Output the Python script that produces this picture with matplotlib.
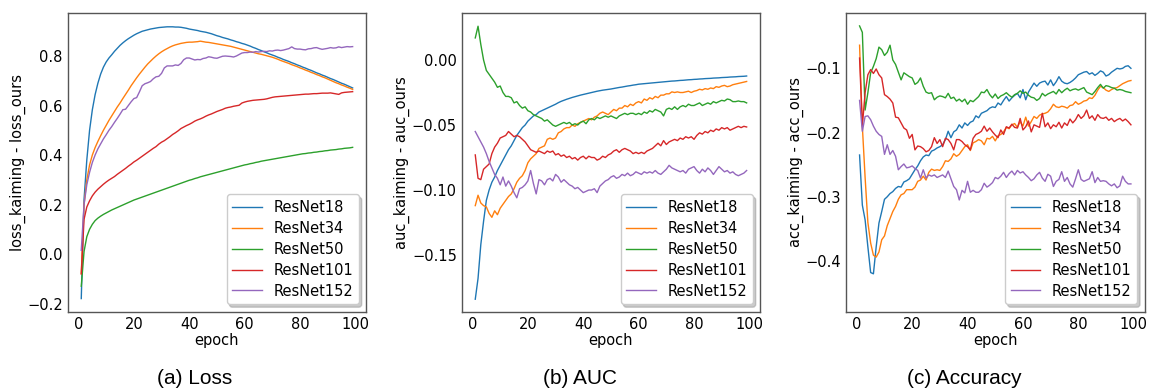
import numpy as np
import matplotlib
matplotlib.use("Agg")
import matplotlib.pyplot as plt

epochs = list(range(1, 100))
labels = ["ResNet18", "ResNet34", "ResNet50", "ResNet101", "ResNet152"]

# ---------------- (a) Loss ----------------
loss18 = [-0.18, 0.22, 0.38, 0.50, 0.583, 0.644, 0.69, 0.727, 0.755, 0.776,
          0.792, 0.805, 0.819, 0.831, 0.843, 0.853, 0.862, 0.870, 0.877, 0.884,
          0.890, 0.895, 0.900, 0.903, 0.906, 0.909, 0.911, 0.913, 0.915, 0.916,
          0.917, 0.918, 0.918, 0.918, 0.917, 0.917, 0.916, 0.914, 0.912, 0.909,
          0.907, 0.905, 0.903, 0.900, 0.898, 0.896, 0.893, 0.890, 0.886, 0.882,
          0.879, 0.875, 0.872, 0.869, 0.865, 0.862, 0.858, 0.855, 0.851, 0.848,
          0.844, 0.840, 0.835, 0.831, 0.826, 0.822, 0.817, 0.813, 0.808, 0.804,
          0.800, 0.795, 0.791, 0.786, 0.782, 0.778, 0.773, 0.769, 0.764, 0.760,
          0.755, 0.751, 0.746, 0.742, 0.737, 0.732, 0.728, 0.723, 0.719, 0.714,
          0.709, 0.705, 0.700, 0.695, 0.690, 0.686, 0.681, 0.676, 0.671]
loss34 = [-0.08, 0.20, 0.30, 0.36, 0.40, 0.43, 0.455, 0.478, 0.50, 0.52,
          0.54, 0.558, 0.576, 0.594, 0.61, 0.628, 0.645, 0.662, 0.68, 0.696,
          0.712, 0.727, 0.741, 0.755, 0.768, 0.779, 0.790, 0.800, 0.809, 0.817,
          0.824, 0.830, 0.836, 0.841, 0.845, 0.848, 0.851, 0.853, 0.855, 0.856,
          0.856, 0.857, 0.858, 0.860, 0.858, 0.856, 0.855, 0.853, 0.851, 0.849,
          0.847, 0.845, 0.843, 0.841, 0.839, 0.836, 0.833, 0.830, 0.827, 0.824,
          0.821, 0.818, 0.815, 0.812, 0.809, 0.807, 0.804, 0.801, 0.798, 0.795,
          0.791, 0.787, 0.782, 0.778, 0.774, 0.770, 0.765, 0.761, 0.757, 0.752,
          0.748, 0.743, 0.739, 0.734, 0.730, 0.725, 0.721, 0.716, 0.712, 0.707,
          0.702, 0.697, 0.692, 0.688, 0.683, 0.679, 0.674, 0.670, 0.665]
loss50 = [-0.13, 0.01, 0.07, 0.10, 0.12, 0.135, 0.145, 0.153, 0.16, 0.166,
          0.172, 0.178, 0.183, 0.188, 0.193, 0.198, 0.203, 0.208, 0.213, 0.218,
          0.222, 0.226, 0.230, 0.234, 0.238, 0.242, 0.246, 0.250, 0.254, 0.258,
          0.262, 0.266, 0.270, 0.274, 0.278, 0.282, 0.286, 0.290, 0.294, 0.298,
          0.301, 0.305, 0.308, 0.312, 0.315, 0.318, 0.321, 0.324, 0.327, 0.330,
          0.333, 0.336, 0.339, 0.342, 0.345, 0.348, 0.351, 0.354, 0.357, 0.360,
          0.362, 0.365, 0.367, 0.370, 0.372, 0.375, 0.377, 0.379, 0.381, 0.383,
          0.385, 0.387, 0.389, 0.391, 0.393, 0.395, 0.397, 0.399, 0.401, 0.403,
          0.405, 0.406, 0.408, 0.409, 0.411, 0.412, 0.414, 0.415, 0.417, 0.418,
          0.420, 0.421, 0.422, 0.424, 0.425, 0.427, 0.428, 0.429, 0.431]
loss101 = [-0.08, 0.14, 0.19, 0.215, 0.235, 0.25, 0.262, 0.272, 0.282, 0.291,
           0.299, 0.306, 0.313, 0.322, 0.330, 0.338, 0.346, 0.355, 0.363, 0.372,
           0.379, 0.387, 0.395, 0.403, 0.411, 0.419, 0.427, 0.434, 0.444, 0.452,
           0.458, 0.466, 0.474, 0.483, 0.490, 0.498, 0.507, 0.513, 0.519, 0.524,
           0.530, 0.537, 0.542, 0.546, 0.551, 0.557, 0.562, 0.566, 0.571, 0.576,
           0.580, 0.584, 0.589, 0.592, 0.594, 0.597, 0.599, 0.601, 0.610, 0.614,
           0.617, 0.619, 0.621, 0.622, 0.623, 0.624, 0.625, 0.627, 0.630, 0.633,
           0.635, 0.636, 0.637, 0.638, 0.639, 0.640, 0.641, 0.642, 0.643, 0.644,
           0.645, 0.646, 0.646, 0.647, 0.648, 0.648, 0.649, 0.650, 0.650, 0.650,
           0.651, 0.649, 0.647, 0.645, 0.651, 0.653, 0.654, 0.655, 0.656]
loss152 = [0.015, 0.20, 0.28, 0.33, 0.37, 0.40, 0.425, 0.445, 0.465, 0.482,
           0.50, 0.515, 0.532, 0.548, 0.565, 0.583, 0.585, 0.600, 0.615, 0.628,
           0.632, 0.655, 0.680, 0.688, 0.692, 0.697, 0.708, 0.716, 0.718, 0.730,
           0.752, 0.760, 0.760, 0.760, 0.764, 0.762, 0.770, 0.785, 0.792, 0.792,
           0.788, 0.784, 0.786, 0.785, 0.790, 0.792, 0.797, 0.795, 0.792, 0.791,
           0.795, 0.799, 0.800, 0.799, 0.798, 0.796, 0.800, 0.806, 0.812, 0.814,
           0.814, 0.816, 0.815, 0.818, 0.816, 0.818, 0.819, 0.818, 0.821, 0.820,
           0.823, 0.824, 0.822, 0.824, 0.827, 0.830, 0.837, 0.830, 0.828, 0.828,
           0.826, 0.825, 0.829, 0.830, 0.833, 0.834, 0.830, 0.827, 0.829, 0.831,
           0.834, 0.832, 0.833, 0.837, 0.834, 0.836, 0.838, 0.837, 0.838]

# ---------------- (b) AUC ----------------
auc18 = [-0.184, -0.168, -0.142, -0.124, -0.108, -0.100, -0.094, -0.090, -0.085, -0.081,
         -0.077, -0.073, -0.069, -0.066, -0.062, -0.058, -0.055, -0.052, -0.050, -0.047,
         -0.045, -0.043, -0.042, -0.040, -0.039, -0.038, -0.037, -0.036, -0.035, -0.034,
         -0.0328, -0.0318, -0.0310, -0.0302, -0.0295, -0.0288, -0.0282, -0.0276, -0.0270, -0.0265,
         -0.0260, -0.0255, -0.0250, -0.0245, -0.0240, -0.0236, -0.0232, -0.0229, -0.0226, -0.0223,
         -0.0219, -0.0215, -0.0211, -0.0208, -0.0204, -0.0200, -0.0197, -0.0193, -0.0190, -0.0186,
         -0.0184, -0.0182, -0.0180, -0.0178, -0.0176, -0.0174, -0.0172, -0.0170, -0.0168, -0.0166,
         -0.0164, -0.0162, -0.0161, -0.0159, -0.0157, -0.0156, -0.0154, -0.0152, -0.0151, -0.0149,
         -0.0148, -0.0146, -0.0145, -0.0143, -0.0142, -0.0141, -0.0139, -0.0138, -0.0137, -0.0135,
         -0.0134, -0.0133, -0.0131, -0.0130, -0.0129, -0.0127, -0.0126, -0.0125, -0.0123]
auc34 = [-0.112, -0.104, -0.110, -0.112, -0.113, -0.118, -0.121, -0.116, -0.119, -0.114,
         -0.111, -0.108, -0.105, -0.103, -0.099, -0.094, -0.091, -0.089, -0.085, -0.079,
         -0.076, -0.074, -0.072, -0.068, -0.067, -0.066, -0.061, -0.060, -0.061, -0.060,
         -0.056, -0.055, -0.053, -0.052, -0.052, -0.050, -0.051, -0.049, -0.048, -0.047,
         -0.046, -0.045, -0.046, -0.044, -0.043, -0.041, -0.040, -0.041, -0.042, -0.040,
         -0.038, -0.039, -0.037, -0.037, -0.035, -0.036, -0.034, -0.035, -0.033, -0.032,
         -0.033, -0.030, -0.031, -0.029, -0.030, -0.028, -0.029, -0.027, -0.027, -0.026,
         -0.026, -0.0245, -0.025, -0.0245, -0.025, -0.025, -0.0245, -0.024, -0.025, -0.024,
         -0.0235, -0.0225, -0.023, -0.022, -0.0225, -0.0215, -0.022, -0.0205, -0.021, -0.020,
         -0.0195, -0.0205, -0.020, -0.019, -0.0185, -0.018, -0.0175, -0.017, -0.0165]
auc50 = [0.017, 0.026, 0.012, 0.000, -0.008, -0.011, -0.014, -0.017, -0.021, -0.020,
         -0.025, -0.028, -0.028, -0.029, -0.033, -0.032, -0.035, -0.037, -0.036, -0.039,
         -0.040, -0.042, -0.043, -0.044, -0.045, -0.047, -0.046, -0.048, -0.050, -0.051,
         -0.050, -0.049, -0.048, -0.049, -0.048, -0.050, -0.049, -0.050, -0.048, -0.047,
         -0.049, -0.046, -0.045, -0.046, -0.044, -0.045, -0.044, -0.043, -0.044, -0.043,
         -0.044, -0.045, -0.043, -0.042, -0.041, -0.042, -0.041, -0.041, -0.042, -0.041,
         -0.042, -0.040, -0.041, -0.039, -0.040, -0.038, -0.039, -0.040, -0.043, -0.038,
         -0.037, -0.038, -0.036, -0.038, -0.036, -0.035, -0.036, -0.034, -0.035, -0.035,
         -0.034, -0.033, -0.035, -0.034, -0.033, -0.034, -0.032, -0.033, -0.032, -0.031,
         -0.0315, -0.030, -0.0305, -0.032, -0.032, -0.0315, -0.032, -0.032, -0.033]
auc101 = [-0.073, -0.091, -0.092, -0.084, -0.082, -0.080, -0.072, -0.067, -0.064, -0.060,
          -0.059, -0.058, -0.055, -0.057, -0.059, -0.058, -0.059, -0.061, -0.063, -0.066,
          -0.069, -0.070, -0.071, -0.070, -0.071, -0.072, -0.070, -0.071, -0.070, -0.073,
          -0.072, -0.074, -0.073, -0.075, -0.074, -0.076, -0.075, -0.077, -0.075, -0.074,
          -0.076, -0.074, -0.075, -0.075, -0.077, -0.076, -0.074, -0.075, -0.073, -0.072,
          -0.070, -0.069, -0.071, -0.069, -0.068, -0.069, -0.070, -0.072, -0.071, -0.072,
          -0.071, -0.072, -0.070, -0.069, -0.068, -0.066, -0.064, -0.066, -0.062, -0.065,
          -0.063, -0.062, -0.061, -0.062, -0.060, -0.061, -0.059, -0.060, -0.059, -0.061,
          -0.058, -0.056, -0.057, -0.055, -0.056, -0.054, -0.055, -0.053, -0.054, -0.052,
          -0.053, -0.052, -0.054, -0.053, -0.052, -0.051, -0.052, -0.051, -0.0515]
auc152 = [-0.055, -0.059, -0.063, -0.067, -0.072, -0.078, -0.083, -0.088, -0.091, -0.096,
          -0.090, -0.097, -0.093, -0.097, -0.102, -0.106, -0.099, -0.098, -0.096, -0.093,
          -0.085, -0.095, -0.103, -0.092, -0.093, -0.096, -0.092, -0.091, -0.093, -0.088,
          -0.090, -0.094, -0.092, -0.094, -0.096, -0.097, -0.099, -0.098, -0.100, -0.102,
          -0.101, -0.100, -0.100, -0.099, -0.102, -0.097, -0.095, -0.093, -0.092, -0.090,
          -0.089, -0.091, -0.090, -0.088, -0.089, -0.087, -0.089, -0.088, -0.086, -0.087,
          -0.088, -0.086, -0.087, -0.086, -0.087, -0.085, -0.087, -0.088, -0.086, -0.084,
          -0.081, -0.083, -0.084, -0.085, -0.086, -0.085, -0.087, -0.084, -0.083, -0.082,
          -0.085, -0.087, -0.084, -0.086, -0.083, -0.085, -0.088, -0.085, -0.082, -0.084,
          -0.086, -0.085, -0.087, -0.086, -0.088, -0.089, -0.088, -0.087, -0.085]

# ---------------- (c) Accuracy ----------------
acc18 = [-0.235, -0.313, -0.336, -0.378, -0.418, -0.420, -0.378, -0.341, -0.323, -0.304,
         -0.300, -0.295, -0.292, -0.287, -0.284, -0.285, -0.277, -0.275, -0.272, -0.265,
         -0.258, -0.252, -0.244, -0.238, -0.235, -0.236, -0.229, -0.227, -0.224, -0.222,
         -0.219, -0.211, -0.198, -0.208, -0.199, -0.196, -0.188, -0.193, -0.185, -0.189,
         -0.184, -0.182, -0.174, -0.177, -0.170, -0.168, -0.166, -0.162, -0.160, -0.161,
         -0.154, -0.157, -0.150, -0.144, -0.151, -0.146, -0.142, -0.139, -0.146, -0.133,
         -0.149, -0.137, -0.130, -0.123, -0.128, -0.123, -0.121, -0.120, -0.126, -0.118,
         -0.127, -0.121, -0.113, -0.120, -0.123, -0.124, -0.122, -0.119, -0.115, -0.110,
         -0.108, -0.106, -0.105, -0.109, -0.107, -0.111, -0.108, -0.104, -0.106, -0.112,
         -0.110, -0.106, -0.103, -0.100, -0.101, -0.100, -0.097, -0.096, -0.100]
acc34 = [-0.064, -0.19, -0.27, -0.34, -0.372, -0.391, -0.394, -0.386, -0.367, -0.361,
         -0.345, -0.334, -0.323, -0.315, -0.304, -0.297, -0.295, -0.289, -0.289, -0.289,
         -0.285, -0.276, -0.274, -0.268, -0.274, -0.262, -0.257, -0.259, -0.258, -0.259,
         -0.253, -0.244, -0.245, -0.241, -0.233, -0.237, -0.234, -0.228, -0.222, -0.219,
         -0.228, -0.216, -0.214, -0.211, -0.213, -0.219, -0.209, -0.210, -0.206, -0.213,
         -0.205, -0.203, -0.199, -0.192, -0.194, -0.188, -0.186, -0.192, -0.183, -0.190,
         -0.176, -0.190, -0.183, -0.175, -0.178, -0.173, -0.171, -0.170, -0.168, -0.163,
         -0.156, -0.160, -0.161, -0.159, -0.160, -0.162, -0.158, -0.157, -0.152, -0.156,
         -0.154, -0.151, -0.150, -0.146, -0.147, -0.142, -0.134, -0.128, -0.130, -0.134,
         -0.136, -0.133, -0.131, -0.130, -0.127, -0.124, -0.122, -0.120, -0.119]
acc50 = [-0.034, -0.044, -0.165, -0.138, -0.107, -0.097, -0.085, -0.067, -0.071, -0.080,
         -0.075, -0.064, -0.087, -0.094, -0.106, -0.118, -0.107, -0.110, -0.113, -0.115,
         -0.125, -0.122, -0.115, -0.128, -0.137, -0.139, -0.138, -0.149, -0.145, -0.143,
         -0.144, -0.146, -0.139, -0.147, -0.145, -0.151, -0.148, -0.152, -0.148, -0.156,
         -0.150, -0.152, -0.148, -0.144, -0.137, -0.138, -0.133, -0.141, -0.146, -0.140,
         -0.147, -0.143, -0.141, -0.138, -0.142, -0.145, -0.141, -0.139, -0.135, -0.139,
         -0.137, -0.142, -0.145, -0.146, -0.150, -0.147, -0.139, -0.143, -0.140, -0.138,
         -0.136, -0.140, -0.133, -0.138, -0.134, -0.131, -0.135, -0.133, -0.132, -0.134,
         -0.132, -0.130, -0.137, -0.139, -0.141, -0.136, -0.130, -0.125, -0.131, -0.127,
         -0.128, -0.130, -0.131, -0.134, -0.133, -0.134, -0.136, -0.137, -0.138]
acc101 = [-0.084, -0.19, -0.138, -0.110, -0.102, -0.108, -0.101, -0.110, -0.115, -0.141,
          -0.144, -0.148, -0.154, -0.176, -0.177, -0.185, -0.193, -0.196, -0.209, -0.203,
          -0.227, -0.221, -0.222, -0.225, -0.230, -0.228, -0.222, -0.208, -0.217, -0.211,
          -0.222, -0.209, -0.211, -0.217, -0.227, -0.211, -0.211, -0.214, -0.219, -0.222,
          -0.227, -0.209, -0.203, -0.201, -0.198, -0.190, -0.198, -0.193, -0.199, -0.204,
          -0.208, -0.196, -0.203, -0.191, -0.193, -0.187, -0.192, -0.193, -0.178, -0.196,
          -0.191, -0.182, -0.199, -0.188, -0.190, -0.192, -0.170, -0.191, -0.185, -0.194,
          -0.188, -0.191, -0.184, -0.193, -0.185, -0.189, -0.179, -0.185, -0.180, -0.172,
          -0.178, -0.174, -0.165, -0.178, -0.174, -0.181, -0.172, -0.177, -0.178, -0.176,
          -0.181, -0.178, -0.183, -0.180, -0.178, -0.182, -0.179, -0.183, -0.188]
acc152 = [-0.150, -0.198, -0.175, -0.174, -0.180, -0.190, -0.198, -0.203, -0.206, -0.234,
          -0.219, -0.234, -0.228, -0.237, -0.258, -0.253, -0.249, -0.255, -0.254, -0.252,
          -0.256, -0.259, -0.271, -0.258, -0.271, -0.266, -0.268, -0.266, -0.270, -0.268,
          -0.266, -0.270, -0.260, -0.272, -0.284, -0.289, -0.305, -0.290, -0.294, -0.276,
          -0.293, -0.290, -0.293, -0.293, -0.289, -0.279, -0.285, -0.282, -0.278, -0.270,
          -0.272, -0.268, -0.262, -0.270, -0.264, -0.260, -0.266, -0.259, -0.263, -0.261,
          -0.266, -0.270, -0.275, -0.272, -0.266, -0.262, -0.271, -0.276, -0.265, -0.268,
          -0.284, -0.276, -0.273, -0.261, -0.276, -0.270, -0.280, -0.285, -0.272, -0.258,
          -0.273, -0.276, -0.274, -0.272, -0.261, -0.278, -0.270, -0.276, -0.275, -0.276,
          -0.280, -0.283, -0.280, -0.286, -0.283, -0.268, -0.276, -0.280, -0.280]

panels = [
    ([loss18, loss34, loss50, loss101, loss152], "loss_kaiming - loss_ours", "(a) Loss",
     (-0.233, 0.975), [-0.2, 0.0, 0.2, 0.4, 0.6, 0.8], "{:.1f}"),
    ([auc18, auc34, auc50, auc101, auc152], "auc_kaiming - auc_ours", "(b) AUC",
     (-0.1936, 0.0364), [-0.15, -0.10, -0.05, 0.00], "{:.2f}"),
    ([acc18, acc34, acc50, acc101, acc152], "acc_kaiming - acc_ours", "(c) Accuracy",
     (-0.479, -0.0134), [-0.4, -0.3, -0.2, -0.1], "{:.1f}"),
]

W, H = 1150, 389
fig = plt.figure(figsize=(W / 100, H / 100), dpi=100)
lefts = [67.7, 461.7, 846.0]
caption_x = [195, 580, 964]
colors = plt.rcParams['axes.prop_cycle'].by_key()['color']

for i, (series, ylab, cap, ylim, yt, fmt) in enumerate(panels):
    ax = fig.add_axes([lefts[i] / W, 1 - 311.7 / H, 298.5 / W, (311.7 - 12.7) / H])
    for j, s in enumerate(series):
        ax.plot(epochs, s, color=colors[j], lw=1.0, label=labels[j])
    ax.set_xlim(-3.9, 103.9)
    ax.set_ylim(*ylim)
    ax.set_xticks([0, 20, 40, 60, 80, 100])
    ax.set_yticks(yt)
    ax.set_yticklabels([fmt.format(v).replace("-", "\u2212") for v in yt])
    ax.tick_params(labelsize=10.5, length=0, pad=3.5)
    ax.set_xlabel("epoch", fontsize=10.5, labelpad=1)
    ax.set_ylabel(ylab, fontsize=10.5, labelpad=1)
    for sp in ax.spines.values():
        sp.set_color("#555555")
        sp.set_linewidth(1.0)
    ax.legend(loc="lower right", fontsize=10.5, labelspacing=0.4, framealpha=1.0,
              shadow={'facecolor': '0.6', 'edgecolor': '0.6', 'alpha': 0.5})
    fig.text(caption_x[i] / W, 1 - 378 / H, cap, ha="center", va="center",
             fontsize=15, family="Liberation Sans")

fig.savefig("out.png", dpi=100)
